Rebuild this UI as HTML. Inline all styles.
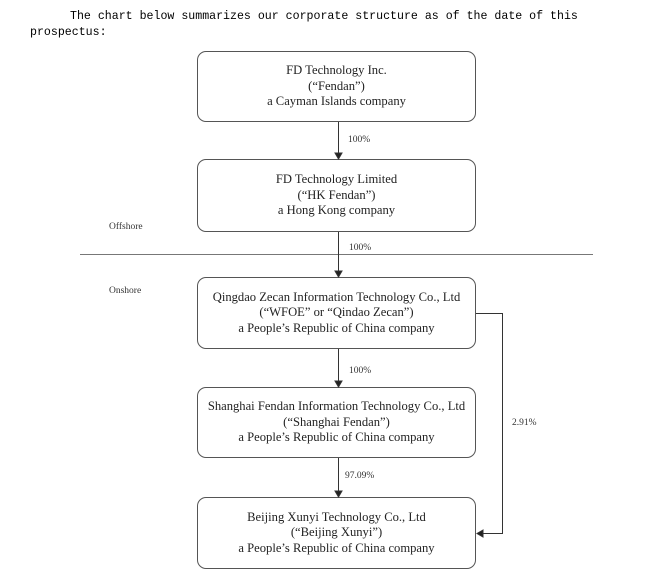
<!DOCTYPE html>
<html><head><style>
body{margin:0;background:#fff;width:647px;height:577px;overflow:hidden;position:relative}
.h{position:absolute;font-family:"Liberation Mono",monospace;font-size:11.6px;color:#000;white-space:pre}
.b{position:absolute;left:197px;width:279px;border:1px solid #555;border-radius:9px;box-sizing:border-box;text-align:center;font-family:"Liberation Serif",serif;font-size:12.6px;line-height:15.5px;color:#222;display:flex;flex-direction:column;justify-content:center}
.l{position:absolute;font-family:"Liberation Serif",serif;font-size:9.5px;color:#333}
</style></head><body>
<div class="h" style="left:70px;top:10px">The chart below summarizes our corporate structure as of the date of this</div>
<div class="h" style="left:30px;top:26px">prospectus:</div>
<div class="b" style="top:51px;height:71px">FD Technology Inc.<br>(“Fendan”)<br>a Cayman Islands company</div>
<div class="b" style="top:159px;height:73px">FD Technology Limited<br>(“HK Fendan”)<br>a Hong Kong company</div>
<div class="b" style="top:277px;height:72px">Qingdao Zecan Information Technology Co., Ltd<br>(“WFOE” or “Qindao Zecan”)<br>a People’s Republic of China company</div>
<div class="b" style="top:387px;height:71px">Shanghai Fendan Information Technology Co., Ltd<br>(“Shanghai Fendan”)<br>a People’s Republic of China company</div>
<div class="b" style="top:497px;height:72px">Beijing Xunyi Technology Co., Ltd<br>(“Beijing Xunyi”)<br>a People’s Republic of China company</div>
<svg width="647" height="577" style="position:absolute;left:0;top:0" fill="none" stroke="#333" stroke-width="1">
<line x1="80" y1="254.5" x2="593" y2="254.5" stroke="#777"/>
<line x1="338.5" y1="122" x2="338.5" y2="155"/><path d="M335 153 L338.5 159 L342 153Z" fill="#222"/>
<line x1="338.5" y1="232" x2="338.5" y2="273"/><path d="M335 271 L338.5 277 L342 271Z" fill="#222"/>
<line x1="338.5" y1="349" x2="338.5" y2="383"/><path d="M335 381 L338.5 387 L342 381Z" fill="#222"/>
<line x1="338.5" y1="458" x2="338.5" y2="493"/><path d="M335 491 L338.5 497 L342 491Z" fill="#222"/>
<polyline points="476,313.5 502.5,313.5 502.5,533.5 481,533.5"/><path d="M483 530 L477 533.5 L483 537Z" fill="#222"/>
</svg>
<div class="l" style="left:348px;top:135px">100%</div>
<div class="l" style="left:349px;top:243px">100%</div>
<div class="l" style="left:349px;top:366px">100%</div>
<div class="l" style="left:345px;top:471px">97.09%</div>
<div class="l" style="left:512px;top:418px">2.91%</div>
<div class="l" style="left:109px;top:222px">Offshore</div>
<div class="l" style="left:109px;top:286px">Onshore</div>
</body></html>
